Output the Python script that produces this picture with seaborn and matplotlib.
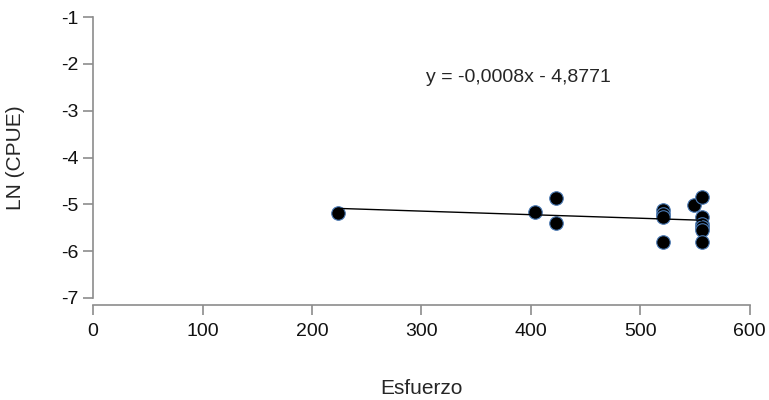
import numpy as np
import pandas as pd
import matplotlib
matplotlib.use("Agg")
import matplotlib.pyplot as plt
import seaborn as sns

# effort vs ln(CPUE)
esfuerzo = [224, 404, 423, 423, 521, 521, 521, 521, 549, 556, 556, 556, 556, 556, 556]
ln_cpue = [-5.19, -5.16, -4.87, -5.40, -5.12, -5.20, -5.27, -5.81, -5.01, -4.85,
           -5.27, -5.41, -5.49, -5.55, -5.81]
equation = "y = -0,0008x - 4,8771"
x_ticks = [0, 100, 200, 300, 400, 500, 600]
y_ticks = [-7, -6, -5, -4, -3, -2, -1]

df = pd.DataFrame({"Esfuerzo": esfuerzo, "LN (CPUE)": ln_cpue})

sns.set_theme(style="white")
plt.rcParams["font.family"] = ["Liberation Sans", "DejaVu Sans"]

fig = plt.figure(figsize=(7.69, 4.0), dpi=100)
ax = fig.add_axes([0.121, 0.255, 0.854, 0.7025])

sns.regplot(data=df, x="Esfuerzo", y="LN (CPUE)", ci=None, ax=ax,
            scatter_kws=dict(s=95, color="black", edgecolor="#4a7ab5", linewidths=0.8, alpha=1),
            line_kws=dict(color="black", linewidth=1))

ax.set_xlim(0, 600)
ax.set_ylim(-7, -1)
ax.set_xticks(x_ticks)
ax.set_yticks(y_ticks)
ax.set_xticklabels([str(t) for t in x_ticks])
ax.set_yticklabels([str(t) for t in y_ticks])

sns.despine(ax=ax)
ax.spines["bottom"].set_position(("outward", 5))
for s in ["left", "bottom"]:
    ax.spines[s].set_color("#8c8c8c")
    ax.spines[s].set_linewidth(1.2)
ax.tick_params(axis="both", which="major", length=7, width=1.2, color="#8c8c8c",
               labelsize=14, labelcolor="#111111", direction="out",
               left=True, bottom=True)
ax.tick_params(axis="x", pad=6)

ax.set_xlabel("Esfuerzo", fontsize=15, labelpad=28)
ax.set_ylabel("LN (CPUE)", fontsize=15, labelpad=26)

ax.text(0.647, 0.783, equation, transform=ax.transAxes, ha="center", va="center",
        fontsize=14)

fig.savefig("out.png", dpi=100)
